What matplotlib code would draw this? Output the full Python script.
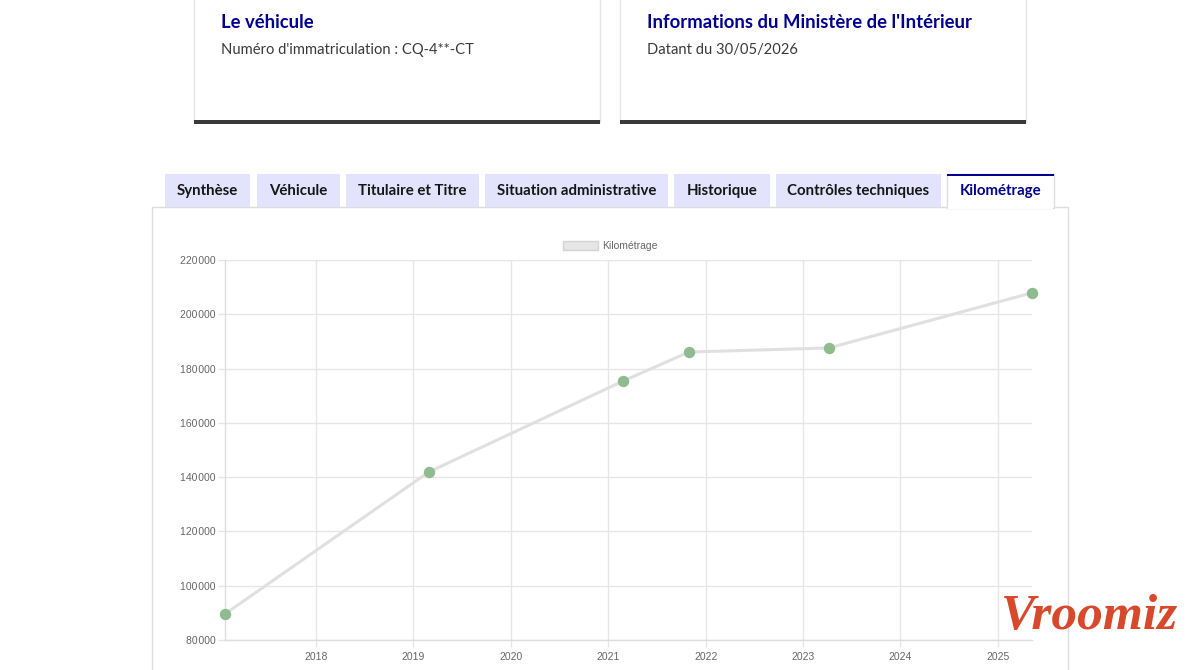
import matplotlib
matplotlib.use("Agg")
import matplotlib.pyplot as plt
import matplotlib.dates as mdates
from matplotlib.patches import Rectangle, Patch
import pandas as pd

# relevés kilométriques
dates = ['2017-01-25', '2019-02-28', '2021-02-25', '2021-10-30', '2023-04-08', '2025-05-08']
km = [89600, 141900, 175400, 186100, 187600, 207900]
y_ticks = [80000, 100000, 120000, 140000, 160000, 180000, 200000, 220000]

tabs = ['Synthèse', 'Véhicule', 'Titulaire et Titre', 'Situation administrative',
        'Historique', 'Contrôles techniques', 'Kilométrage']
tab_edges = [(165, 250), (257, 340), (346, 479), (485, 668), (674, 770), (776, 941), (947, 1054)]

cards = [('Le véhicule', "Numéro d'immatriculation : CQ-4**-CT"),
         ("Informations du Ministère de l'Intérieur", 'Datant du 30/05/2026')]
card_edges = [(194, 600), (620, 1026)]

x = pd.to_datetime(dates)

W, H = 1200, 670
fig = plt.figure(figsize=(W / 100, H / 100), dpi=100)
fig.patch.set_facecolor('white')

# page en arrière-plan, coordonnées en pixels
page = fig.add_axes([0, 0, 1, 1], zorder=0)
page.set_xlim(0, W)
page.set_ylim(H, 0)
page.axis('off')

ui_font = 'Lato'
blue = '#000091'

for (x0, x1), (title, sub) in zip(card_edges, cards):
    page.add_patch(Rectangle((x0, -5), x1 - x0, 127, facecolor='white', edgecolor='#e5e5e5', lw=1))
    page.add_patch(Rectangle((x0, 120), x1 - x0, 3.5, facecolor='#3a3a3a', edgecolor='none'))
    page.text(x0 + 27, 22, title, color=blue, fontsize=13.3, fontweight='bold',
              family=ui_font, va='center', ha='left')
    page.text(x0 + 27, 50, sub, color='#3a3a3a', fontsize=10.6, family=ui_font,
              va='center', ha='left')

# panneau
page.add_patch(Rectangle((152, 207), 1068 - 152, 500, facecolor='white', edgecolor='#dddddd', lw=1))

for (x0, x1), label in zip(tab_edges, tabs):
    active = label == 'Kilométrage'
    if active:
        page.add_patch(Rectangle((x0, 174), x1 - x0, 34, facecolor='white', edgecolor='#dddddd', lw=1))
        page.add_patch(Rectangle((x0, 173.5), x1 - x0, 2.2, facecolor=blue, edgecolor='none'))
        page.add_patch(Rectangle((x0 + 0.6, 205), x1 - x0 - 1.2, 4, facecolor='white', edgecolor='none'))
    else:
        page.add_patch(Rectangle((x0, 174), x1 - x0, 33, facecolor='#e3e3fd', edgecolor='none'))
    page.text((x0 + x1) / 2, 191, label, color=blue if active else '#161616',
              fontsize=10.8, fontweight='bold', family=ui_font, ha='center', va='center')

# graphique
grid_c = '#e6e6e6'
txt_c = '#666666'
ax = fig.add_axes([225 / W, 1 - 640 / H, 807 / W, 380 / H], zorder=2)
ax.patch.set_alpha(0)
ax.plot(x, km, color='#e0e0e0', lw=2.2, zorder=3, clip_on=False, label='Kilométrage')
ax.plot(x, km, ls='none', marker='o', ms=7.2, color='#8fbc8f', mec='#8fbc8f',
        zorder=4, clip_on=False)

ax.set_xlim(x[0], x[-1])
ax.set_ylim(y_ticks[0], y_ticks[-1])
ax.set_yticks(y_ticks)
ax.set_yticklabels([f'{v:,}'.replace(',', '\u200a') for v in y_ticks],
                   family=['Liberation Sans', 'DejaVu Sans'], fontsize=7.5, color=txt_c)
ax.xaxis.set_major_locator(mdates.YearLocator())
ax.xaxis.set_major_formatter(mdates.DateFormatter('%Y'))
for lab in ax.get_xticklabels():
    lab.set_family('Liberation Sans')
    lab.set_fontsize(7.5)
    lab.set_color(txt_c)

ax.grid(True, color=grid_c, lw=1)
ax.set_axisbelow(True)
ax.tick_params(length=5, width=1, color=grid_c, pad=1.5)
ax.tick_params(axis='x', pad=3.5)
for s in ['top', 'right']:
    ax.spines[s].set_visible(False)
for s in ['left', 'bottom']:
    ax.spines[s].set_color('#dddddd')
    ax.spines[s].set_linewidth(1)

handle = Patch(facecolor='#e6e6e6', edgecolor='#d3d3d3', lw=1)
fig.legend([handle], ['Kilométrage'], loc='center left',
           bbox_to_anchor=(563 / W, 1 - 246 / H), frameon=False,
           prop={'family': 'Liberation Sans', 'size': 7.5},
           labelcolor=txt_c, handlelength=3.4, handleheight=1.05,
           handletextpad=0.35, borderpad=0, borderaxespad=0)

# filigrane
fig.text(1090 / W, 1 - 617 / H, 'Vroomiz', color='#d8482a', fontsize=37,
         fontweight='bold', style='italic', family='Liberation Serif',
         ha='center', va='center', zorder=10)

fig.savefig('out.png', dpi=100, facecolor='white')
